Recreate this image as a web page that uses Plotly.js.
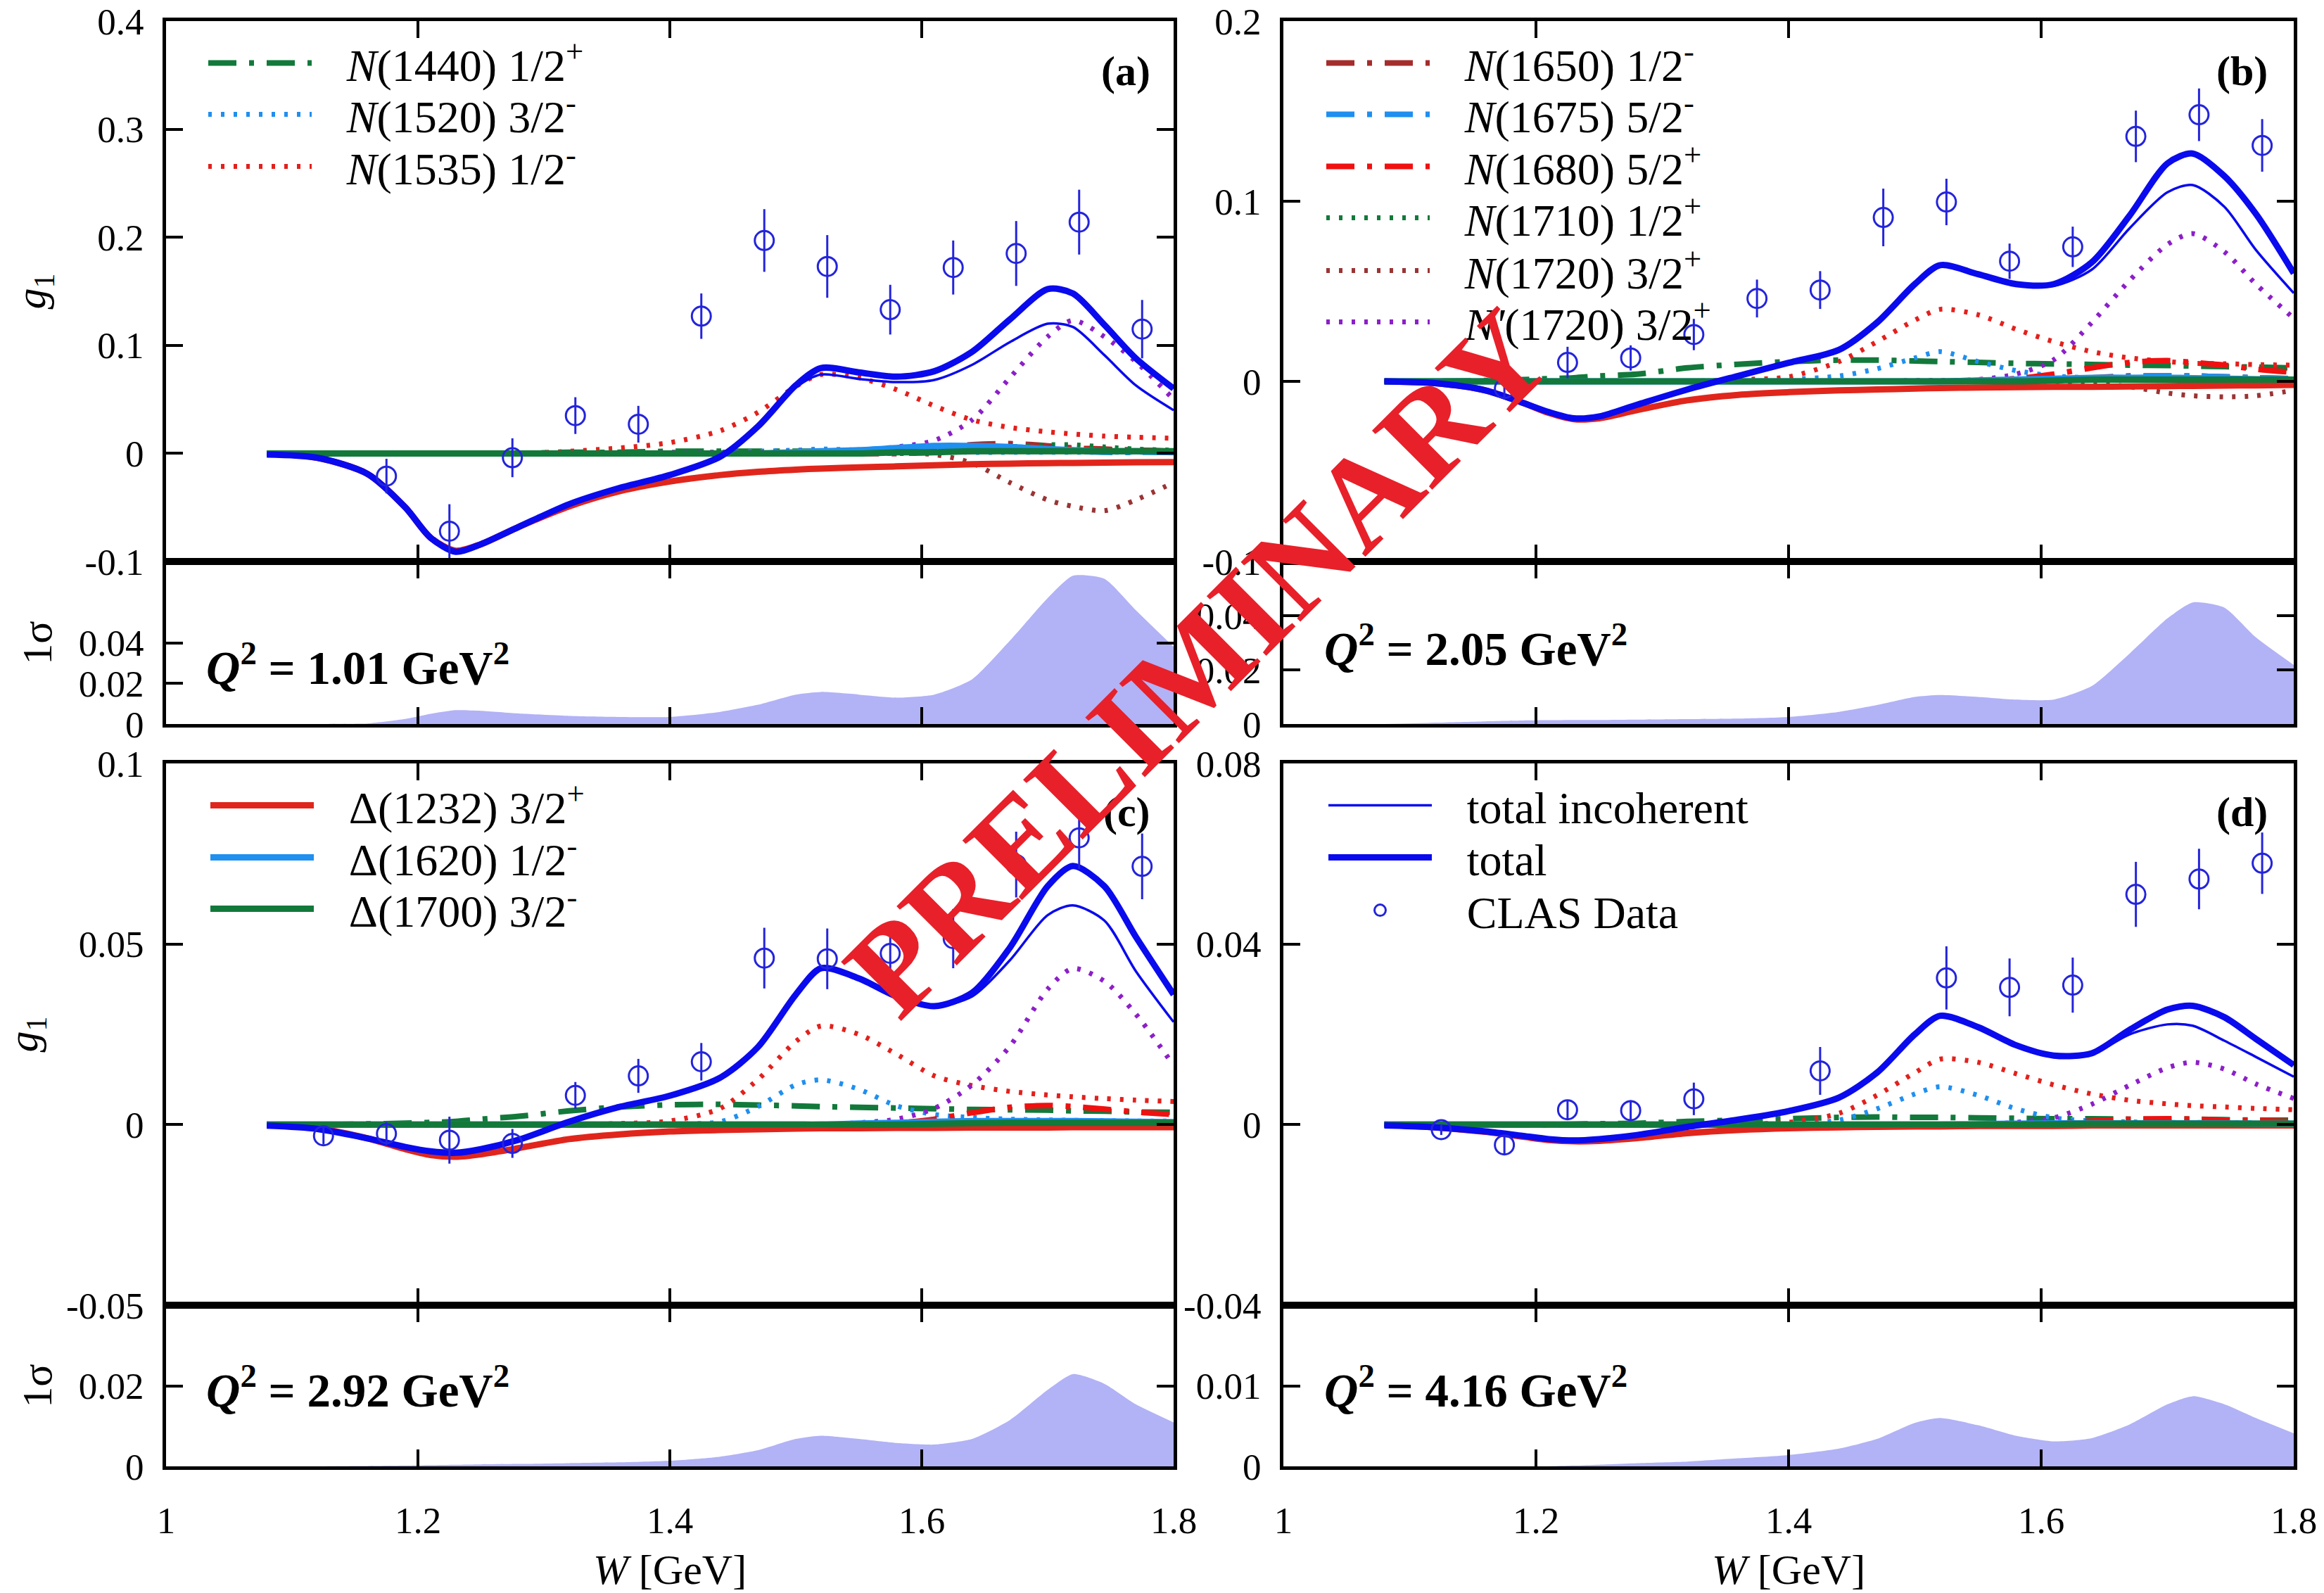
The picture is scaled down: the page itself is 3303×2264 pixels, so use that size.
<!DOCTYPE html>
<html><head><meta charset="utf-8">
<script src="https://cdn.plot.ly/plotly-3.0.1.min.js"></script>
<style>html,body{margin:0;padding:0;background:#fff}#chart{width:3303px;height:2264px}</style>
</head><body><div id="chart"></div>
<script>
// ---------- DATA ----------
const W = [1.08,1.12,1.16,1.19,1.21,1.23,1.25,1.28,1.32,1.36,1.40,1.44,1.47,1.50,1.52,1.55,1.58,1.61,1.64,1.67,1.70,1.72,1.745,1.77,1.80];

// Panel (a)  Q2 = 1.01 GeV2
const a_D1232 = [0,-0.004,-0.019,-0.050,-0.078,-0.090,-0.084,-0.068,-0.049,-0.035,-0.026,-0.020,-0.017,-0.015,-0.014,-0.013,-0.012,-0.011,-0.010,-0.0095,-0.009,-0.0088,-0.0085,-0.0082,-0.008];
const a_D1620 = [0,0,0,0,0,0,0,0,0,0,0,0,0,0.001,0.002,0.003,0.005,0.007,0.007,0.006,0.004,0.003,0.002,0.002,0.001];
const a_D1700 = [0,0,0,0,0,0,0,0,0,0,0,0,0,0,0,0,0.001,0.001,0.002,0.002,0.002,0.002,0.002,0.002,0.002];
const a_N1440 = [0,0,0,0,0,0,0,0,0.001,0.001,0.002,0.002,0.002,0.002,0.002,0.002,0.002,0.002,0.002,0.002,0.002,0.002,0.002,0.002,0.002];
const a_N1520 = [0,0,0,0,0,0,0,0,0,0,0,0.001,0.002,0.003,0.004,0.003,0.002,0.002,0.001,0.001,0.001,0.001,0.001,0.001,0.001];
const a_N1535 = [0,0,0,0,0,0,0,0,0.002,0.005,0.010,0.021,0.038,0.062,0.073,0.070,0.059,0.044,0.031,0.024,0.020,0.018,0.016,0.015,0.014];
const a_N1650 = [0,0,0,0,0,0,0,0,0,0,0,0,0,0,0,0.001,0.002,0.005,0.008,0.009,0.007,0.005,0.004,0.003,0.002];
const a_N1675 = [0,0,0,0,0,0,0,0,0,0,0,0,0,0,0,0,0,0.001,0.002,0.002,0.002,0.002,0.001,0.001,0.001];
const a_N1680 = [0,0,0,0,0,0,0,0,0,0,0,0,0,0,0,0,0,0.001,0.002,0.003,0.004,0.004,0.003,0.003,0.002];
const a_N1710 = [0,0,0,0,0,0,0,0,0,0,0,0,0,0,0,0,0,0.001,0.003,0.006,0.008,0.008,0.006,0.004,0.003];
const a_N1720 = [0,0,0,0,0,0,0,0,0,0,0,0,0,0,0,0,0,-0.001,-0.009,-0.027,-0.043,-0.049,-0.053,-0.043,-0.027];
const a_Np1720 = [0,0,0,0,0,0,0,0,0,0,0.001,0.001,0.001,0.002,0.002,0.003,0.006,0.012,0.031,0.070,0.108,0.123,0.108,0.085,0.050];
const a_totalIncoh = [-0.001,-0.004,-0.019,-0.050,-0.078,-0.091,-0.084,-0.068,-0.047,-0.032,-0.020,-0.003,0.024,0.061,0.073,0.069,0.066,0.068,0.082,0.103,0.120,0.117,0.091,0.063,0.040];
const a_total = [-0.001,-0.004,-0.019,-0.050,-0.078,-0.091,-0.084,-0.068,-0.047,-0.032,-0.020,-0.003,0.025,0.063,0.079,0.075,0.071,0.076,0.094,0.124,0.152,0.148,0.119,0.088,0.060];
const a_band = [0,0,0.0003,0.0025,0.005,0.0068,0.0065,0.0052,0.004,0.0035,0.0035,0.006,0.0095,0.0145,0.0158,0.0145,0.013,0.0145,0.022,0.041,0.062,0.073,0.0715,0.056,0.038];
const a_dataW = [1.175,1.225,1.275,1.325,1.375,1.425,1.475,1.525,1.575,1.625,1.675,1.725,1.775];
const a_data = [-0.021,-0.072,-0.004,0.035,0.027,0.127,0.197,0.173,0.133,0.172,0.185,0.214,0.115];
const a_err = [0.016,0.025,0.018,0.017,0.017,0.021,0.029,0.029,0.023,0.025,0.030,0.030,0.027];

// Panel (b)  Q2 = 2.05 GeV2
const b_D1232 = [0,-0.001,-0.005,-0.012,-0.0175,-0.021,-0.0205,-0.016,-0.0105,-0.0075,-0.006,-0.005,-0.0045,-0.004,-0.0037,-0.0034,-0.0032,-0.003,-0.003,-0.0028,-0.0026,-0.0025,-0.0023,-0.0022,-0.002];
const b_D1620 = [0,0,0,0,0,0,0,0,0,0,0,0,0,0,0,0.0005,0.001,0.0015,0.002,0.002,0.002,0.0018,0.0015,0.0012,0.001];
const b_D1700 = [0,0,0,0,0,0,0,0,0,0,0,0,0,0,0,0,0,0.0005,0.001,0.001,0.001,0.001,0.001,0.001,0.001];
const b_N1440 = [0,0,0.0005,0.001,0.0015,0.002,0.003,0.004,0.0075,0.0095,0.011,0.0118,0.0118,0.0113,0.011,0.0105,0.010,0.0097,0.0094,0.009,0.0088,0.0085,0.0082,0.0079,0.0075];
const b_N1520 = [0,0,0,0,0,0,0,0,0,0,0.001,0.003,0.007,0.013,0.0165,0.011,0.006,0.003,0.002,0.002,0.002,0.002,0.0015,0.001,0.001];
const b_N1535 = [0,0,0,0,0,0,0,0,0,0.001,0.0025,0.011,0.022,0.034,0.040,0.037,0.029,0.022,0.0165,0.013,0.011,0.010,0.0098,0.0093,0.009];
const b_N1650 = [0,0,0,0,0,0,0,0,0,0,0,0,0,0,0,0,0.0005,0.001,0.002,0.003,0.003,0.003,0.0025,0.002,0.0015];
const b_N1675 = [0,0,0,0,0,0,0,0,0,0,0,0,0,0,0,0,0,0.0005,0.0015,0.0025,0.003,0.003,0.0025,0.002,0.0015];
const b_N1680 = [0,0,0,0,0,0,0,0,0,0,0,0,0,0,0,0.0005,0.0015,0.004,0.0075,0.0105,0.0115,0.0105,0.009,0.0068,0.005];
const b_N1710 = [0,0,0,0,0,0,0,0,0,0,0,0,0,0,0,0,0,0,0.0005,0.001,0.0015,0.0015,0.0012,0.001,0.001];
const b_N1720 = [0,0,0,0,0,0,0,0,0,0,0,0,0,0,0,0,0,0,-0.001,-0.003,-0.0065,-0.008,-0.0086,-0.008,-0.005];
const b_Np1720 = [0,0,0,0,0,0,0,0,0,0,0,0,0,0.0005,0.0005,0.001,0.004,0.012,0.0326,0.056,0.076,0.082,0.072,0.054,0.035];
const b_totalIncoh = [0,-0.001,-0.005,-0.012,-0.017,-0.0205,-0.0195,-0.013,-0.0045,0.003,0.0103,0.0175,0.0326,0.054,0.0645,0.0595,0.054,0.053,0.062,0.085,0.105,0.109,0.097,0.073,0.049];
const b_total = [0,-0.001,-0.005,-0.012,-0.017,-0.0205,-0.0195,-0.013,-0.0045,0.003,0.0103,0.0175,0.0326,0.054,0.0645,0.0595,0.054,0.054,0.066,0.092,0.121,0.1265,0.114,0.093,0.060];
const b_band = [0,0.0005,0.001,0.0013,0.0014,0.0015,0.0015,0.0016,0.0018,0.002,0.0026,0.0045,0.007,0.010,0.0107,0.010,0.009,0.009,0.014,0.026,0.039,0.0449,0.043,0.032,0.0218];
const b_dataW = [1.175,1.225,1.275,1.325,1.375,1.425,1.475,1.525,1.575,1.625,1.675,1.725,1.775];
const b_data = [-0.004,0.0105,0.013,0.026,0.046,0.0507,0.091,0.0996,0.0667,0.0747,0.136,0.148,0.131];
const b_err = [0.006,0.0087,0.007,0.0087,0.0105,0.0105,0.016,0.0129,0.0098,0.0112,0.0143,0.0146,0.0146];

// Panel (c)  Q2 = 2.92 GeV2
const c_D1232 = [0,-0.001,-0.0038,-0.0068,-0.0084,-0.0089,-0.0082,-0.0065,-0.004,-0.0027,-0.0019,-0.0015,-0.0013,-0.0011,-0.001,-0.001,-0.0009,-0.0009,-0.0008,-0.0008,-0.0008,-0.0007,-0.0007,-0.0007,-0.0007];
const c_D1620 = [0,0,0,0,0,0,0,0,0,0,0,0,0,0,0,0.0003,0.0005,0.0008,0.001,0.001,0.001,0.001,0.0009,0.0008,0.0007];
const c_D1700 = [0,0,0,0,0,0,0,0,0,0,0,0,0,0,0,0,0,0.0002,0.0004,0.0005,0.0005,0.0005,0.0005,0.0005,0.0005];
const c_N1440 = [0,0,0.0002,0.0004,0.0006,0.0009,0.0015,0.0023,0.0038,0.0049,0.0055,0.0056,0.0054,0.0052,0.005,0.0048,0.0046,0.0044,0.0042,0.0041,0.004,0.0038,0.0037,0.0035,0.0034];
const c_N1520 = [0,0,0,0,0,0,0,0,0,0,0.0002,0.0008,0.005,0.011,0.0124,0.0098,0.0052,0.0028,0.002,0.0015,0.0013,0.0012,0.0011,0.001,0.001];
const c_N1535 = [0,0,0,0,0,0,0,0,0,0.0003,0.001,0.0045,0.0125,0.023,0.0273,0.025,0.0195,0.0135,0.0108,0.0092,0.0082,0.0077,0.0072,0.0068,0.0064];
const c_N1650 = [0,0,0,0,0,0,0,0,0,0,0,0,0,0,0,0,0.0002,0.0005,0.0008,0.001,0.001,0.0009,0.0008,0.0007,0.0006];
const c_N1675 = [0,0,0,0,0,0,0,0,0,0,0,0,0,0,0,0,0,0.0003,0.0006,0.0009,0.001,0.001,0.0009,0.0008,0.0006];
const c_N1680 = [0,0,0,0,0,0,0,0,0,0,0,0,0,0,0,0,0.0004,0.0015,0.0033,0.0048,0.0053,0.005,0.0043,0.0035,0.0028];
const c_N1710 = [0,0,0,0,0,0,0,0,0,0,0,0,0,0,0,0,0,0,0.0002,0.0004,0.0005,0.0005,0.0005,0.0004,0.0004];
const c_N1720 = [0,0,0,0,0,0,0,0,0,0,0,0,0,0,0,0,0,0,-0.0002,-0.0004,-0.0006,-0.0007,-0.0007,-0.0006,-0.0004];
const c_Np1720 = [0,0,0,0,0,0,0,0,0,0,0,0,0,0,0,0.0005,0.0015,0.0045,0.011,0.0217,0.0375,0.0432,0.0397,0.0306,0.0164];
const c_totalIncoh = [-0.0003,-0.0012,-0.0038,-0.0062,-0.0074,-0.0078,-0.0068,-0.0042,0.0008,0.0049,0.008,0.013,0.0215,0.036,0.0433,0.0405,0.0355,0.0328,0.0355,0.0455,0.058,0.0607,0.0565,0.0425,0.0284];
const c_total = [-0.0003,-0.0012,-0.0038,-0.0062,-0.0074,-0.0078,-0.0068,-0.0042,0.0008,0.0049,0.008,0.013,0.0215,0.036,0.0433,0.0405,0.0355,0.0328,0.0365,0.049,0.066,0.0716,0.066,0.052,0.036];
const c_band = [0,0,0.0001,0.0002,0.0003,0.0004,0.0005,0.0006,0.0008,0.001,0.0014,0.0024,0.004,0.0068,0.0076,0.0068,0.0058,0.0054,0.0068,0.0115,0.019,0.0229,0.0205,0.0154,0.0109];
const c_dataW = [1.125,1.175,1.225,1.275,1.325,1.375,1.425,1.475,1.525,1.575,1.625,1.675,1.725,1.775];
const c_data = [-0.0031,-0.0025,-0.0043,-0.0052,0.0081,0.0135,0.0174,0.0461,0.0459,0.0474,0.0515,0.072,0.0794,0.0715];
const c_err = [0.0024,0.0032,0.0065,0.004,0.0037,0.0047,0.0052,0.0084,0.0084,0.007,0.0082,0.0091,0.0087,0.0091];

// Panel (d)  Q2 = 4.16 GeV2
const d_D1232 = [0,-0.0006,-0.0016,-0.0027,-0.0034,-0.0037,-0.0036,-0.003,-0.0019,-0.0012,-0.0008,-0.0006,-0.0005,-0.0004,-0.0004,-0.0003,-0.0003,-0.0003,-0.0002,-0.0002,-0.0002,-0.0002,-0.0002,-0.0002,-0.0002];
const d_D1620 = [0,0,0,0,0,0,0,0,0,0,0,0,0,0,0,0.0001,0.0002,0.0003,0.0003,0.0003,0.0003,0.0003,0.0003,0.0002,0.0002];
const d_D1700 = [0,0,0,0,0,0,0,0,0,0,0,0,0,0,0,0,0,0.0001,0.0002,0.0002,0.0002,0.0002,0.0002,0.0002,0.0002];
const d_N1440 = [0,0,0,0,0,0.0001,0.0002,0.0003,0.0007,0.001,0.0013,0.0016,0.0017,0.0016,0.0016,0.0015,0.0014,0.0013,0.0013,0.0012,0.0012,0.0012,0.0011,0.001,0.001];
const d_N1520 = [0,0,0,0,0,0,0,0,0,0,0.0002,0.001,0.0035,0.0068,0.0084,0.0065,0.0035,0.0015,0.0008,0.0006,0.0005,0.0005,0.0004,0.0004,0.0004];
const d_N1535 = [0,0,0,0,0,0,0,0,0,0.0001,0.0005,0.0025,0.0065,0.0115,0.0145,0.0138,0.0113,0.0088,0.0068,0.0054,0.0046,0.0042,0.0039,0.0036,0.0033];
const d_N1650 = [0,0,0,0,0,0,0,0,0,0,0,0,0,0,0,0,0,0.0001,0.0002,0.0004,0.0005,0.0005,0.0004,0.0003,0.0003];
const d_N1675 = [0,0,0,0,0,0,0,0,0,0,0,0,0,0,0,0,0,0.0001,0.0002,0.0003,0.0003,0.0003,0.0003,0.0002,0.0002];
const d_N1680 = [0,0,0,0,0,0,0,0,0,0,0,0,0,0,0,0,0,0.0003,0.0008,0.0012,0.0013,0.0012,0.001,0.0009,0.0007];
const d_N1710 = [0,0,0,0,0,0,0,0,0,0,0,0,0,0,0,0,0,0,0.0001,0.0002,0.0002,0.0002,0.0002,0.0002,0.0002];
const d_N1720 = [0,0,0,0,0,0,0,0,0,0,0,0,0,0,0,0,0,0,-0.0001,-0.0002,-0.0003,-0.0003,-0.0003,-0.0002,-0.0002];
const d_Np1720 = [0,0,0,0,0,0,0,0,0,0,0,0,0,0,0,0,0.0005,0.0015,0.0045,0.0087,0.0126,0.0138,0.0123,0.009,0.0058];
const d_totalIncoh = [-0.0002,-0.0006,-0.0015,-0.0025,-0.0032,-0.0035,-0.0032,-0.0023,-0.0005,0.0011,0.003,0.006,0.0115,0.020,0.0241,0.0216,0.0176,0.0153,0.0156,0.020,0.0222,0.0219,0.0186,0.015,0.0106];
const d_total = [-0.0002,-0.0006,-0.0015,-0.0025,-0.0032,-0.0035,-0.0032,-0.0023,-0.0005,0.0011,0.003,0.006,0.0115,0.020,0.0241,0.0216,0.0176,0.0153,0.0158,0.021,0.0255,0.0263,0.0238,0.019,0.0132];
const d_band = [0,0,0,0,0,0.0001,0.0002,0.0004,0.0006,0.001,0.0014,0.0022,0.0034,0.0054,0.006,0.0051,0.0038,0.0031,0.0035,0.0052,0.0077,0.0087,0.0077,0.006,0.0041];
const d_dataW = [1.125,1.175,1.225,1.275,1.325,1.425,1.525,1.575,1.625,1.675,1.725,1.775];
const d_data = [-0.0011,-0.0045,0.0033,0.0031,0.0057,0.0119,0.0325,0.0304,0.0309,0.051,0.0544,0.0579];
const d_err = [0.0012,0.002,0.0021,0.0023,0.0036,0.0053,0.007,0.0064,0.0061,0.0072,0.0067,0.0068];

// Tick labels
const xTickVals = [1,1.2,1.4,1.6,1.8];
const xTickText = ['1','1.2','1.4','1.6','1.8'];
const yTicksA = [-0.1,0,0.1,0.2,0.3,0.4];   const yTextA = ['-0.1','0','0.1','0.2','0.3','0.4'];
const yTicksB = [-0.1,0,0.1,0.2];           const yTextB = ['-0.1','0','0.1','0.2'];
const yTicksC = [-0.05,0,0.05,0.1];         const yTextC = ['-0.05','0','0.05','0.1'];
const yTicksD = [-0.04,0,0.04,0.08];        const yTextD = ['-0.04','0','0.04','0.08'];
const sTicksA = [0,0.02,0.04]; const sTextA = ['0','0.02','0.04'];
const sTicksB = [0,0.02,0.04]; const sTextB = ['0','0.02','0.04'];
const sTicksC = [0,0.02];      const sTextC = ['0','0.02'];
const sTicksD = [0,0.01];      const sTextD = ['0','0.01'];
const q2Labels = ['1.01','2.05','2.92','4.16'];
const panelTags = ['(a)','(b)','(c)','(d)'];

// ---------- STYLE ----------
const FONT = 'Liberation Serif';
const DOT = '5px,13px';
const DASHDOT = '40px,18px,7px,18px';
const GAP = '\u2002\u2009';
const SERIES = [
  {k:'N1440', name:'<i>N</i>(1440) 1/2<sup>+</sup>', color:'#12793b', dash:DASHDOT, width:8},
  {k:'N1520', name:'<i>N</i>(1520) 3/2<sup>-</sup>', color:'#1f8ff0', dash:DOT, width:7},
  {k:'N1535', name:'<i>N</i>(1535) 1/2<sup>-</sup>', color:'#e3201c', dash:DOT, width:7},
  {k:'N1650', name:'<i>N</i>(1650) 1/2<sup>-</sup>', color:'#a42c2c', dash:DASHDOT, width:8},
  {k:'N1675', name:'<i>N</i>(1675) 5/2<sup>-</sup>', color:'#1f8ff0', dash:DASHDOT, width:8},
  {k:'N1680', name:'<i>N</i>(1680) 5/2<sup>+</sup>', color:'#f01010', dash:DASHDOT, width:8},
  {k:'N1710', name:'<i>N</i>(1710) 1/2<sup>+</sup>', color:'#12793b', dash:DOT, width:7},
  {k:'N1720', name:'<i>N</i>(1720) 3/2<sup>+</sup>', color:'#9a3434', dash:DOT, width:7},
  {k:'Np1720', name:"<i>N'</i>(1720) 3/2<sup>+</sup>", color:'#8c1fc8', dash:DOT, width:7},
  {k:'D1232', name:'Δ(1232) 3/2<sup>+</sup>', color:'#e0261c', dash:'solid', width:9},
  {k:'D1620', name:'Δ(1620) 1/2<sup>-</sup>', color:'#1f8ff0', dash:'solid', width:9},
  {k:'D1700', name:'Δ(1700) 3/2<sup>-</sup>', color:'#12793b', dash:'solid', width:9},
  {k:'totalIncoh', name:'total incoherent', color:'#0a0aee', dash:'solid', width:3.5},
  {k:'total', name:'total', color:'#0a0aee', dash:'solid', width:9}
];
const DATA_COLOR = '#2424dc';
const BAND_COLOR = 'rgb(178,178,246)';

// legend rows: [text x, row centre y] in px
const LEG_POS = {N1440:[485,90], N1520:[485,163], N1535:[485,237],
  N1650:[2074,90], N1675:[2074,163], N1680:[2074,237], N1710:[2074,310], N1720:[2074,385], Np1720:[2074,458],
  D1232:[488,1145], D1620:[488,1219], D1700:[488,1292],
  totalIncoh:[2077,1145], total:[2077,1219], data:[2077,1294]};
const LEG_KEYS = Object.keys(LEG_POS);
const legId = k => { const i = LEG_KEYS.indexOf(k); return i === 0 ? 'legend' : 'legend' + (i + 1); };

const P = {
  a:{D1232:a_D1232,D1620:a_D1620,D1700:a_D1700,N1440:a_N1440,N1520:a_N1520,N1535:a_N1535,N1650:a_N1650,N1675:a_N1675,N1680:a_N1680,N1710:a_N1710,N1720:a_N1720,Np1720:a_Np1720,totalIncoh:a_totalIncoh,total:a_total,band:a_band,dW:a_dataW,d:a_data,e:a_err},
  b:{D1232:b_D1232,D1620:b_D1620,D1700:b_D1700,N1440:b_N1440,N1520:b_N1520,N1535:b_N1535,N1650:b_N1650,N1675:b_N1675,N1680:b_N1680,N1710:b_N1710,N1720:b_N1720,Np1720:b_Np1720,totalIncoh:b_totalIncoh,total:b_total,band:b_band,dW:b_dataW,d:b_data,e:b_err},
  c:{D1232:c_D1232,D1620:c_D1620,D1700:c_D1700,N1440:c_N1440,N1520:c_N1520,N1535:c_N1535,N1650:c_N1650,N1675:c_N1675,N1680:c_N1680,N1710:c_N1710,N1720:c_N1720,Np1720:c_Np1720,totalIncoh:c_totalIncoh,total:c_total,band:c_band,dW:c_dataW,d:c_data,e:c_err},
  d:{D1232:d_D1232,D1620:d_D1620,D1700:d_D1700,N1440:d_N1440,N1520:d_N1520,N1535:d_N1535,N1650:d_N1650,N1675:d_N1675,N1680:d_N1680,N1710:d_N1710,N1720:d_N1720,Np1720:d_Np1720,totalIncoh:d_totalIncoh,total:d_total,band:d_band,dW:d_dataW,d:d_data,e:d_err}
};

const FW = 3303, FH = 2264;
const px = v => v / FW;
const py = v => 1 - v / FH;
const xL = [px(236), px(1668)], xR = [px(1824), px(3260)];
const yTopMain = [py(798), py(30)], yTopSub = [py(1029), py(798)];
const yBotMain = [py(1855), py(1085)], yBotSub = [py(2084), py(1855)];

const panels = [
  {p:'a', xm:'x',  ym:'y',  xs:'x2', ys:'y2'},
  {p:'b', xm:'x3', ym:'y3', xs:'x4', ys:'y4'},
  {p:'c', xm:'x5', ym:'y5', xs:'x6', ys:'y6'},
  {p:'d', xm:'x7', ym:'y7', xs:'x8', ys:'y8'}
];

// ---------- TRACES ----------
const traces = [];
panels.forEach((pn, i) => {
  const v = P[pn.p];
  traces.push({type:'scatter', mode:'lines', x:W, y:v.band, xaxis:pn.xs, yaxis:pn.ys,
    fill:'tozeroy', fillcolor:BAND_COLOR, line:{width:0, color:BAND_COLOR, shape:'spline', smoothing:0.6},
    showlegend:false, hoverinfo:'skip'});
  SERIES.forEach(s => {
    traces.push({type:'scatter', mode:'lines', x:W, y:v[s.k], xaxis:pn.xm, yaxis:pn.ym,
      name:GAP + s.name, legend:legId(s.k), showlegend:i === 0, legendgroup:s.k,
      line:{color:s.color, width:s.width, dash:s.dash, shape:'spline', smoothing:0.8}});
  });
  traces.push({type:'scatter', mode:'markers', x:v.dW, y:v.d, xaxis:pn.xm, yaxis:pn.ym,
    name:GAP + 'CLAS Data', legend:legId('data'), showlegend:i === 0, legendgroup:'data',
    marker:{symbol:'circle-open', size:27, color:DATA_COLOR, line:{width:3, color:DATA_COLOR}},
    error_y:{type:'data', array:v.e, visible:true, color:DATA_COLOR, thickness:3, width:0}});
});

// ---------- LAYOUT ----------
const tickFont = {family:FONT, size:53, color:'#000'};
function xAx(domain, anchor, labels, title) {
  const ax = {domain, anchor, range:[1,1.8], tickvals:xTickVals, ticktext:xTickText,
    showticklabels:labels, ticks:'inside', ticklen:24, tickwidth:4, tickcolor:'#000',
    showline:true, linewidth:5, linecolor:'#000', mirror:'ticks', showgrid:false, zeroline:false,
    tickfont:tickFont, ticklabelstandoff:26, fixedrange:true};
  if (title) ax.title = {text:'<i>W</i> [GeV]', font:{family:FONT, size:60, color:'#000'}, standoff:30};
  return ax;
}
function yAx(domain, anchor, range, tv, tt, title, st) {
  const ax = {domain, anchor, range, tickvals:tv, ticktext:tt, ticks:'inside', ticklen:24, tickwidth:4,
    tickcolor:'#000', showline:true, linewidth:5, linecolor:'#000', mirror:'ticks', showgrid:false,
    zeroline:false, tickfont:tickFont, ticklabelstandoff:16, fixedrange:true};
  if (title) ax.title = {text:title, font:{family:FONT, size:60, color:'#000'}, standoff:st};
  return ax;
}

const legends = {};
LEG_KEYS.forEach(k => {
  const [tx, ty] = LEG_POS[k];
  legends[legId(k)] = {bgcolor:'rgba(0,0,0,0)', borderwidth:0, xanchor:'left', yanchor:'middle',
    x:px(tx - 194), y:py(ty), font:{family:FONT, size:64, color:'#000'}, itemwidth:147, traceorder:'normal'};
});

const annotations = [];
const tagPos = [[1637,101],[3225,101],[1637,1154],[3225,1154]];
const qPos = [[291,944],[1880,917],[291,1971],[1880,1971]];
panels.forEach((pn, i) => {
  annotations.push({xref:'paper', yref:'paper', x:px(tagPos[i][0]), y:py(tagPos[i][1]), xanchor:'right', yanchor:'middle',
    text:'<b>' + panelTags[i] + '</b>', showarrow:false, font:{family:FONT, size:60, color:'#000'}});
  annotations.push({xref:'paper', yref:'paper', x:px(qPos[i][0]), y:py(qPos[i][1]), xanchor:'left', yanchor:'middle',
    text:'<b><i>Q</i><sup>2</sup> = ' + q2Labels[i] + ' GeV<sup>2</sup></b>', showarrow:false, font:{family:FONT, size:67, color:'#000'}});
});
annotations.push({xref:'paper', yref:'paper', x:px(1702), y:py(942), xanchor:'center', yanchor:'middle',
  text:'<b>PRELIMINARY</b>', textangle:-45, showarrow:false, font:{family:FONT, size:183, color:'#e8202a'}});

const layout = Object.assign({
  width:FW, height:FH, margin:{l:0, r:0, t:0, b:0}, paper_bgcolor:'#fff', plot_bgcolor:'rgba(0,0,0,0)',
  showlegend:true,
  xaxis: xAx(xL, 'y', false), yaxis: yAx(yTopMain, 'x', [-0.1,0.4], yTicksA, yTextA, '<i>g</i><sub>1</sub>', 38),
  xaxis2: xAx(xL, 'y2', false), yaxis2: yAx(yTopSub, 'x2', [0,0.08], sTicksA, sTextA, '1σ', 20),
  xaxis3: xAx(xR, 'y3', false), yaxis3: yAx(yTopMain, 'x3', [-0.1,0.2], yTicksB, yTextB),
  xaxis4: xAx(xR, 'y4', false), yaxis4: yAx(yTopSub, 'x4', [0,0.06], sTicksB, sTextB),
  xaxis5: xAx(xL, 'y5', false), yaxis5: yAx(yBotMain, 'x5', [-0.05,0.1], yTicksC, yTextC, '<i>g</i><sub>1</sub>', 38),
  xaxis6: xAx(xL, 'y6', true, true), yaxis6: yAx(yBotSub, 'x6', [0,0.04], sTicksC, sTextC, '1σ', 20),
  xaxis7: xAx(xR, 'y7', false), yaxis7: yAx(yBotMain, 'x7', [-0.04,0.08], yTicksD, yTextD),
  xaxis8: xAx(xR, 'y8', true, true), yaxis8: yAx(yBotSub, 'x8', [0,0.02], sTicksD, sTextD),
  annotations
}, legends);

Plotly.newPlot('chart', traces, layout, {staticPlot:true, displayModeBar:false});
</script></body></html>
